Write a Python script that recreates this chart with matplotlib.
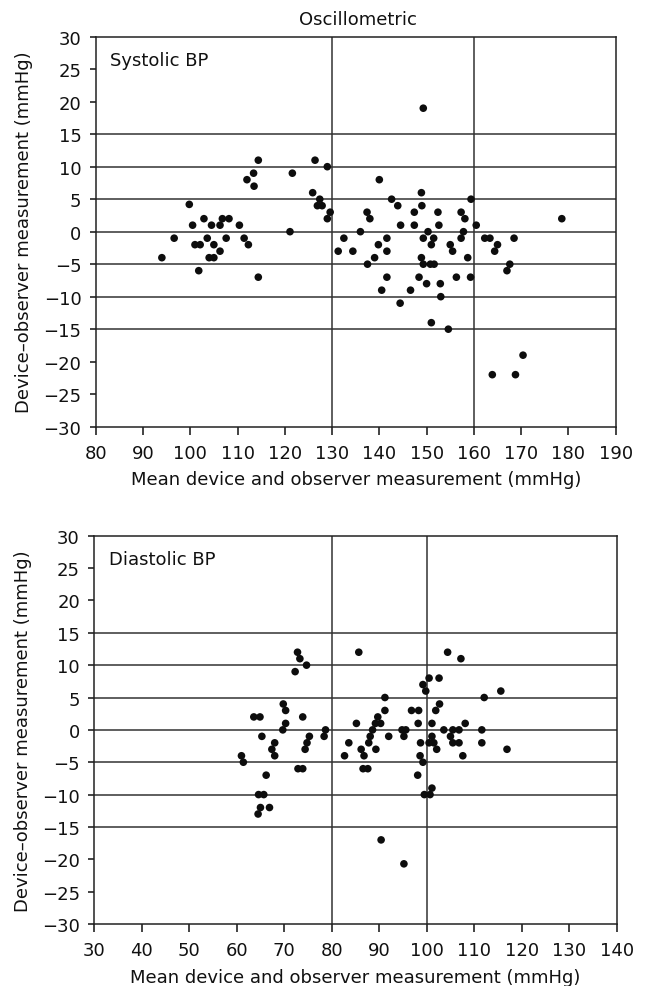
import matplotlib
matplotlib.use("Agg")
import matplotlib.pyplot as plt

# ---------------- data ----------------
sys_mean = [94.0, 96.6, 99.8, 100.5, 101.0, 102.1, 101.8, 102.9, 103.6, 104.5,
            104.0, 105.0, 105.0, 106.3, 106.3, 106.8, 108.2, 107.6, 110.4, 111.4,
            112.3, 112.0, 113.4, 113.5, 114.4, 114.4,
            149.3, 121.1, 121.6, 126.4, 129.0, 125.9, 127.4, 126.9, 127.9, 129.6,
            129.0, 131.3, 132.5, 134.4, 136.0, 137.4, 138.0, 137.5, 139.0, 139.8,
            140.0, 141.6, 141.6, 141.6, 140.5, 142.6, 143.9, 144.5, 144.4, 146.6,
            147.4, 147.4, 148.9, 149.0, 148.4, 148.9, 149.3, 149.3, 150.3, 150.0,
            150.8, 151.6, 151.0, 151.5, 151.0, 152.4, 152.6, 152.9, 153.0, 154.6,
            155.0, 155.5, 156.3, 157.3, 157.3, 157.8, 158.1, 159.4, 158.7, 159.3,
            160.5, 162.3, 163.4, 165.0, 164.4, 168.5, 167.6, 167.0, 178.6,
            163.9, 168.8, 170.4]
sys_diff = [-4, -1, 4.2, 1, -2, -2, -6, 2, -1, 1,
            -4, -4, -2, 1, -3, 2, 2, -1, 1, -1,
            -2, 8, 9, 7, 11, -7,
            19, 0, 9, 11, 10, 6, 5, 4, 4, 3,
            2, -3, -1, -3, 0, 3, 2, -5, -4, -2,
            8, -1, -3, -7, -9, 5, 4, 1, -11, -9,
            3, 1, 6, 4, -7, -4, -5, -1, 0, -8,
            -5, -5, -2, -1, -14, 3, 1, -8, -10, -15,
            -2, -3, -7, 3, -1, 0, 2, 5, -4, -7,
            1, -1, -1, -2, -3, -1, -5, -6, 2,
            -22, -22, -19]

dia_mean = [61.0, 61.4, 63.6, 64.9, 65.3, 67.4, 68.0, 68.0, 66.2, 64.6,
            65.7, 65.0, 66.9, 64.5,
            69.8, 70.3, 70.3, 69.7, 73.9, 72.8, 73.3, 74.7, 72.3, 72.9,
            73.9, 74.4, 74.8, 75.3, 78.4, 78.7, 82.7, 83.6, 85.7, 85.2,
            86.2, 86.8, 86.6, 87.6, 87.8, 88.1, 88.6, 89.3, 89.2, 90.3,
            89.7, 91.2, 91.2, 92.0, 90.4, 94.8, 95.6, 95.2, 96.8, 98.3,
            98.2, 98.7, 98.6, 99.2, 98.1, 99.2, 99.8, 100.5, 102.6, 99.5,
            100.7, 101.1, 100.5, 101.5, 101.1, 101.1, 102.1, 101.9, 102.7, 103.6,
            104.4, 107.2, 105.0, 105.5, 106.8, 105.5, 106.8, 107.6, 108.1,
            115.6, 112.1, 111.6, 111.6, 116.9, 95.2]
dia_diff = [-4, -5, 2, 2, -1, -3, -2, -4, -7, -10,
            -10, -12, -12, -13,
            4, 3, 1, 0, 2, 12, 11, 10, 9, -6,
            -6, -3, -2, -1, -1, 0, -4, -2, 12, 1,
            -3, -4, -6, -6, -2, -1, 0, -3, 1, 1,
            2, 5, 3, -1, -17, 0, 0, -1, 3, 3,
            1, -2, -4, -5, -7, 7, 6, 8, 8, -10,
            -10, -9, -2, -2, -1, 1, -3, 3, 4, 0,
            12, 11, -1, 0, 0, -2, -2, -4, 1,
            6, 5, 0, -2, -3, -20.7]

sys_xticks = [80, 90, 100, 110, 120, 130, 140, 150, 160, 170, 180, 190]
dia_xticks = [30, 40, 50, 60, 70, 80, 90, 100, 110, 120, 130, 140]
y_ticks = [-30, -25, -20, -15, -10, -5, 0, 5, 10, 15, 20, 25, 30]
h_lines = [-15, -10, -5, 0, 5, 10, 15]
sys_vlines = [130, 160]
dia_vlines = [80, 100]

title = "Oscillometric"
panel_labels = ["Systolic BP", "Diastolic BP"]
xlabel = "Mean device and observer measurement (mmHg)"
ylabel = "Device\u2013observer measurement (mmHg)"

# ---------------- figure ----------------
plt.rcParams["font.family"] = ["DejaVu Sans"]
FS = 13
GRID = "#333333"
INK = "#111111"

fig = plt.figure(figsize=(6.47, 9.87), dpi=100)
ax1 = fig.add_axes([0.1479, 0.5667, 0.8037, 0.3951])
ax2 = fig.add_axes([0.1456, 0.0628, 0.8076, 0.3934])

panels = [
    (ax1, sys_mean, sys_diff, sys_xticks, sys_vlines, panel_labels[0]),
    (ax2, dia_mean, dia_diff, dia_xticks, dia_vlines, panel_labels[1]),
]

for ax, xm, yd, xt, vl, lab in panels:
    for h in h_lines:
        ax.axhline(h, color=GRID, lw=1.1, zorder=1)
    for v in vl:
        ax.axvline(v, color=GRID, lw=1.1, zorder=1)
    ax.scatter(xm, yd, s=30, color="#0d0d0d", edgecolors="none", zorder=3)
    ax.set_xlim(xt[0], xt[-1])
    ax.set_ylim(y_ticks[0], y_ticks[-1])
    ax.set_xticks(xt)
    ax.set_yticks(y_ticks)
    ax.tick_params(axis="x", direction="out", length=5.5, width=1.1,
                   pad=7, labelsize=FS, colors=INK)
    ax.tick_params(axis="y", direction="out", length=4.3, width=1.1,
                   pad=6, labelsize=FS, colors=INK)
    for sp in ax.spines.values():
        sp.set_color("#222222")
        sp.set_linewidth(1.1)
    ax.set_xlabel(xlabel, fontsize=FS, labelpad=6, color=INK)
    ax.set_ylabel(ylabel, fontsize=FS, color=INK)
    ax.yaxis.set_label_coords(-0.12, 0.5)
    ax.text(0.028, 0.927, lab, transform=ax.transAxes, fontsize=FS,
            va="baseline", ha="left", color=INK)

fig.text(0.5525, 1 - 25 / 987, title, fontsize=FS, ha="center",
         va="baseline", color=INK)

fig.savefig("out.png", dpi=100, facecolor="white")
